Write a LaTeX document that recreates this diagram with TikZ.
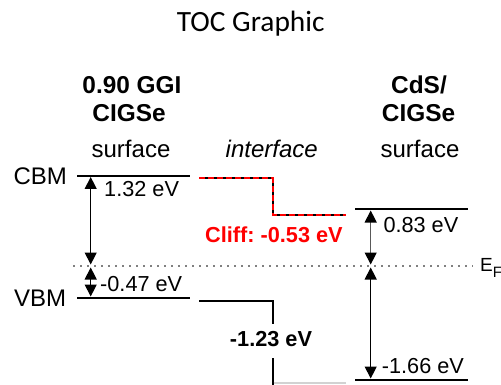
\documentclass[tikz,border=0pt]{standalone}
\usepackage{fontspec}
\setmainfont{Liberation Sans}
\newfontfamily\titlefont{Carlito}
\usetikzlibrary{arrows.meta}
\frenchspacing

\begin{document}
\begin{tikzpicture}[
  x=1pt, y=-1pt,
  >={Triangle[width=12pt,length=12pt,color=black]},
  head/.style={anchor=base, font=\fontsize{24.4}{28}\selectfont\bfseries, inner sep=0pt},
  sub/.style={anchor=base, font=\fontsize{24}{28}\selectfont, inner sep=0pt},
  lab/.style={anchor=base west, font=\fontsize{21.7}{26}\selectfont, inner sep=0pt},
  level/.style={line width=2pt},
  gap/.style={<->, line width=1.2pt},
  fermi/.style={gray, line width=1.2pt, dash pattern=on 1.5pt off 5.5pt}
]
  \useasboundingbox (0,0) rectangle (501,385);

  \node[anchor=base, inner sep=0pt, font=\titlefont\fontsize{29.4}{34}\selectfont] (title) at (250.8,31.5) {TOC Graphic};

  \node[head] (ggi) at (132,93.3) {0.90 GGI};
  \node[head] (cigsL) at (129,121.7) {CIGSe};
  \node[sub] (surfL) at (131,157.3) {surface};
  \node[sub, font=\fontsize{24}{28}\selectfont\itshape] (intf) at (271.7,157.3) {interface};
  \node[head] (cds) at (419,93.3) {CdS/};
  \node[head] (cigsR) at (418.5,121.7) {CIGSe};
  \node[sub] (surfR) at (420,157.3) {surface};

  \node[sub, anchor=base west] (cbm) at (13.3,185) {CBM};
  \node[sub, anchor=base west] (vbm) at (14,306.7) {VBM};

  \coordinate (cbmA) at (77,175.7);
  \coordinate (cbmB) at (190,175.7);
  \coordinate (vbmA) at (77,297.7);
  \coordinate (vbmB) at (190,297.7);
  \coordinate (efA) at (73,266);
  \coordinate (efB) at (473,266);
  \coordinate (icA) at (199,178.5);
  \coordinate (icB) at (272.7,178.5);
  \coordinate (icC) at (272.7,214.5);
  \coordinate (icD) at (346,214.5);
  \coordinate (ivA) at (199,300.7);
  \coordinate (ivB) at (272.7,300.7);
  \coordinate (ivC) at (272.7,386);
  \coordinate (ibA) at (273.7,383);
  \coordinate (ibB) at (346,383);
  \coordinate (rcA) at (355,209.3);
  \coordinate (rcB) at (468,209.3);
  \coordinate (rvA) at (355,380);
  \coordinate (rvB) at (468,380);

  \coordinate (aL1) at (90.7,177);
  \coordinate (aL2) at (90.7,264.5);
  \coordinate (aL3) at (90.7,267.5);
  \coordinate (aL4) at (90.7,296.5);
  \coordinate (aR1) at (370.7,210.5);
  \coordinate (aR2) at (370.7,264.5);
  \coordinate (aR3) at (370.7,267.5);
  \coordinate (aR4) at (370.7,378.5);

  \draw[fermi] (efA) -- (efB);
  \node[anchor=base west, inner sep=0pt, font=\fontsize{19}{22}\selectfont] (ef) at (480,271.7) {E\raisebox{-6pt}{\fontsize{15}{18}\selectfont F}};

  \draw[level] (cbmA) -- (cbmB);
  \draw[level] (vbmA) -- (vbmB);
  \draw[level] (rcA) -- (rcB);
  \draw[level] (rvA) -- (rvB);
  \draw[level] (icA) -- (icB) -- (icC) -- (icD);
  \draw[level, red, dash pattern=on 6pt off 3pt] (icA) -- (icB) -- (icC) -- (icD);
  \draw[level] (ivA) -- (ivB) -- (ivC);
  \draw[level, gray!35] (ibA) -- (ibB);

  \draw[gap] (aL1) -- (aL2);
  \draw[gap] (aL3) -- (aL4);
  \draw[gap, gray!70!black] (aR1) -- (aR2);
  \draw[gap] (aR3) -- (aR4);

  \node[lab] (egL) at (104,196.7) {1.32 eV};
  \node[lab] (vbL) at (100,291.7) {-0.47 eV};
  \node[lab] (egR) at (383.3,232.7) {0.83 eV};
  \node[lab] (vbR) at (381.7,373.3) {-1.66 eV};
  \node[lab, red, font=\fontsize{21.7}{26}\selectfont\bfseries] (cliff) at (205,242.7) {Cliff: -0.53 eV};
  \node[lab, anchor=base, fill=white, inner xsep=2pt, inner ysep=8pt, text depth=3pt, font=\fontsize{21.7}{26}\selectfont\bfseries] (voff) at (271,346.7) {-1.23 eV};
\end{tikzpicture}
\end{document}
